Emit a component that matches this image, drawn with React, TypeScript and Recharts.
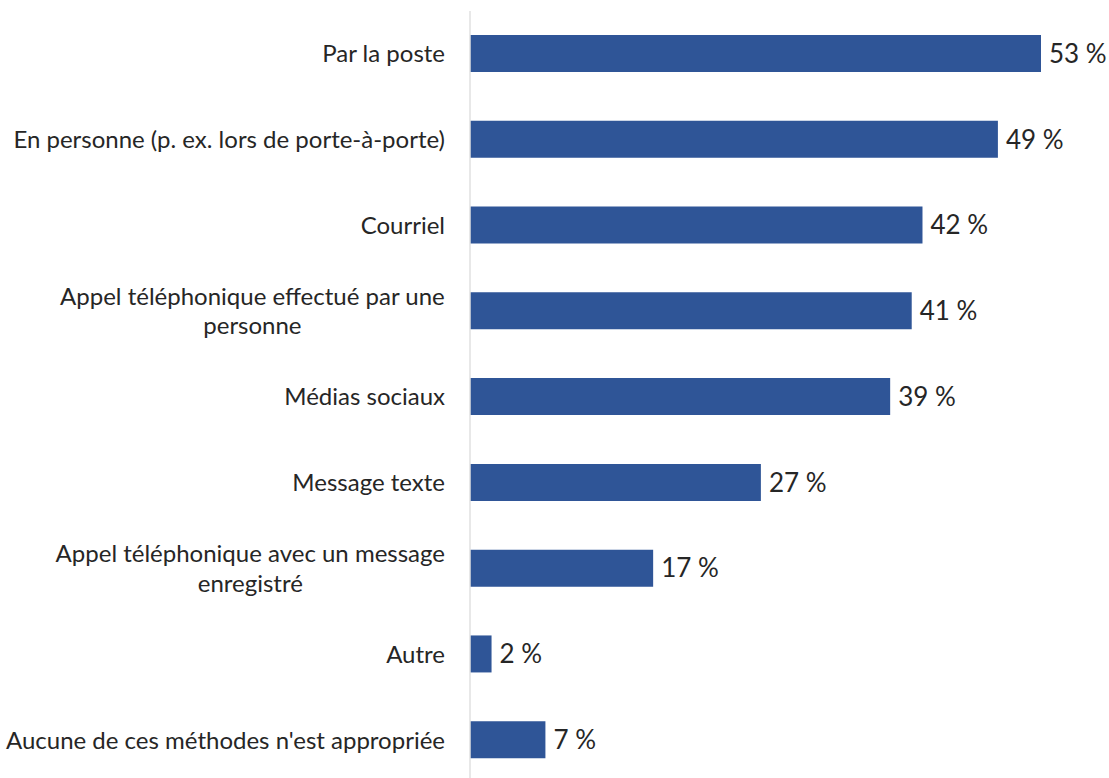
import { BarChart, Bar, XAxis, YAxis, LabelList } from 'recharts';

const categories = [
  'Par la poste',
  'En personne (p. ex. lors de porte-à-porte)',
  'Courriel',
  'Appel téléphonique effectué par une\npersonne',
  'Médias sociaux',
  'Message texte',
  'Appel téléphonique avec un message\nenregistré',
  'Autre',
  "Aucune de ces méthodes n'est appropriée",
];

const values = [53, 49, 42, 41, 39, 27, 17, 2, 7];

const BAR_COLOR = '#2F5597';
const TEXT_COLOR = '#262626';
const FONT = 'Lato, "Open Sans", sans-serif';
const TICK_SIZE = 24;

let ctx: CanvasRenderingContext2D | null = null;
function measure(text: string) {
  if (!ctx) ctx = document.createElement('canvas').getContext('2d');
  if (!ctx) return text.length * TICK_SIZE * 0.5;
  ctx.font = `${TICK_SIZE}px ${FONT}`;
  return ctx.measureText(text).width;
}

// right-aligned labels, wrapped ones centred on their longest line
function CategoryTick({ x, y, payload }: any) {
  const lines: string[] = String(payload.value).split('\n');
  const right = x - 17;
  const lineHeight = 29.5;
  const startY = y - ((lines.length - 1) * lineHeight) / 2;
  if (lines.length === 1) {
    return (
      <text x={right} y={y} dy="0.35em" textAnchor="end" fill={TEXT_COLOR} fontSize={TICK_SIZE} fontFamily={FONT}>
        {lines[0]}
      </text>
    );
  }
  const maxW = Math.max(...lines.map(measure));
  const cx = right - maxW / 2;
  return (
    <text textAnchor="middle" fill={TEXT_COLOR} fontSize={TICK_SIZE} fontFamily={FONT}>
      {lines.map((l, i) => (
        <tspan key={i} x={cx} y={startY + i * lineHeight} dy="0.35em">
          {l}
        </tspan>
      ))}
    </text>
  );
}

export default function App() {
  const data = categories.map((name, i) => ({ name, value: values[i] }));

  return (
    <div style={{ position: 'absolute', left: 0, top: 0, background: '#fff' }}>
      <BarChart
        width={1109}
        height={790}
        data={data}
        layout="vertical"
        margin={{ top: 11, right: 68, bottom: 7, left: 0 }}
      >
        <XAxis type="number" domain={[0, 53]} hide />
        <YAxis
          type="category"
          dataKey="name"
          width={470}
          tickLine={false}
          axisLine={{ stroke: '#E0E0E0', strokeWidth: 1.5 }}
          tick={<CategoryTick />}
          interval={0}
        />
        <Bar dataKey="value" fill={BAR_COLOR} barSize={37} isAnimationActive={false}>
          <LabelList
            dataKey="value"
            position="right"
            offset={8}
            formatter={(v: any) => `${v} %`}
            fill={TEXT_COLOR}
            fontSize={26}
            fontFamily={FONT}
          />
        </Bar>
      </BarChart>
    </div>
  );
}
